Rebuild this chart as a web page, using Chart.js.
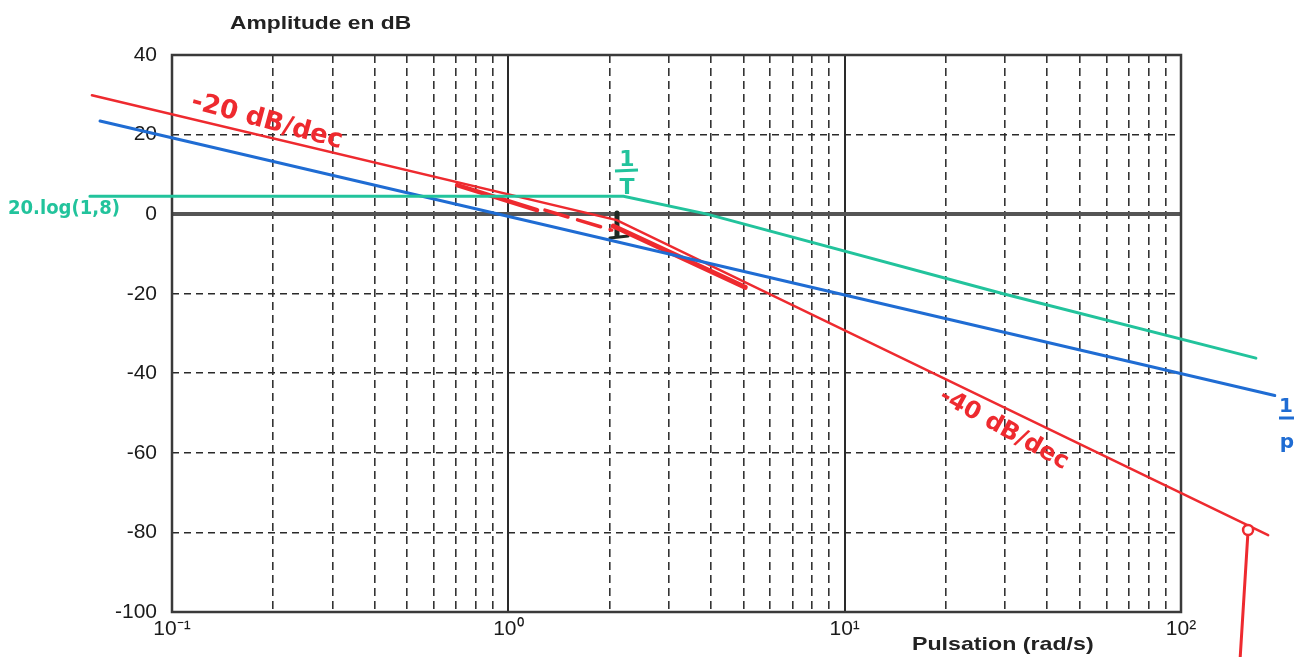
<!DOCTYPE html>
<html>
<head>
<meta charset="utf-8">
<script src="https://cdn.jsdelivr.net/npm/chart.js@4.4.1/dist/chart.umd.min.js"></script>
<style>
html,body{margin:0;padding:0;background:#fff;}
canvas{display:block;}
</style>
</head>
<body>
<canvas id="c" width="1308" height="657"></canvas>
<script>
// ---- data (omega in rad/s, amplitude in dB) ----
const xTicks = [0.1,0.2,0.3,0.4,0.5,0.6,0.7,0.8,0.9,1,2,3,4,5,6,7,8,9,10,20,30,40,50,60,70,80,90,100];
const xTickLabels = {0.1:'10\u207B\u00B9', 1:'10\u2070', 10:'10\u00B9', 100:'10\u00B2'};
const yTicks = [40,20,0,-20,-40,-60,-80,-100];

// blue : 1/p
const blueOmega = [0.0611, 190];
const blueDb    = [23.4, -45.6];
// green : 1.8/(1+Tp)
const greenOmega = [0.057, 2.2, 3.9, 29.6, 167];
const greenDb    = [4.5, 4.5, 0, -20, -36.2];
// red : product
const redOmega = [0.0578, 2.1, 181.6];
const redDb    = [29.9, -1.5, -80.7];
// hand-drawn red strokes
const redHandAOmega = [0.704, 1.217];
const redHandADb    = [7.3, 1.0];
const redDashOmega  = [1.285, 2.03];
const redDashDb     = [1.0, -4.0];
const redHandBOmega = [2.05, 5.06];
const redHandBDb    = [-3.0, -18.4];
const redDropOmega  = [158.3, 150];
const redDropDb     = [-79.4, -111.3];
// black mark at 1/T
const markVOmega = [2.104, 2.104];
const markVDb    = [0.3, -5.3];
const markHOmega = [2.005, 2.27];
const markHDb    = [-6.0, -5.5];

const RED = '#ee2a2f', BLUE = '#1f6cd3', GREEN = '#22c39c';
const pts = (xs, ys) => xs.map((x, i) => ({x, y: ys[i]}));

function ds(xs, ys, color, width, extra) {
  return Object.assign({
    type: 'line', data: pts(xs, ys), borderColor: color, backgroundColor: color,
    borderWidth: width, pointRadius: 0, clip: false, tension: 0, fill: false,
    borderCapStyle: 'round'
  }, extra || {});
}

function stretchedText(c, txt, x, y, sx) {
  c.save(); c.translate(x, y); c.scale(sx, 1); c.fillText(txt, 0, 0); c.restore();
}

const frameAndText = {
  id: 'frameAndText',
  beforeDraw(chart) {
    const c = chart.ctx;
    c.save(); c.fillStyle = '#fff'; c.fillRect(0, 0, chart.width, chart.height); c.restore();
  },
  beforeDatasetsDraw(chart) {
    const c = chart.ctx, a = chart.chartArea;
    c.save();
    c.strokeStyle = '#3a3a3a'; c.lineWidth = 2.5; c.setLineDash([]);
    c.strokeRect(a.left, a.top, a.right - a.left, a.bottom - a.top);
    c.restore();
  },
  afterDatasetsDraw(chart) {
    // small circle marking the start of the red drop line
    const c = chart.ctx;
    const px = chart.scales.x.getPixelForValue(redDropOmega[0]);
    const py = chart.scales.y.getPixelForValue(redDropDb[0]);
    c.save();
    c.beginPath(); c.arc(px, py, 5, 0, Math.PI * 2);
    c.fillStyle = '#fff'; c.fill();
    c.strokeStyle = RED; c.lineWidth = 2.5; c.stroke();
    c.restore();
  },
  afterDraw(chart) {
    const c = chart.ctx;
    c.save();
    c.fillStyle = '#222';
    c.font = 'bold 19px "Liberation Sans", Arial, sans-serif';
    c.textBaseline = 'alphabetic';
    c.textAlign = 'left';
    stretchedText(c, 'Amplitude en dB', 230, 29, 1.2);
    stretchedText(c, 'Pulsation (rad/s)', 912, 650, 1.22);

    // handwritten annotations
    c.font = 'bold 26px "DejaVu Sans", sans-serif';
    c.fillStyle = RED;
    c.save(); c.translate(190, 108); c.rotate(15 * Math.PI / 180);
    c.fillText('-20 dB/dec', 0, 0); c.restore();
    c.save(); c.translate(938, 400); c.rotate(29 * Math.PI / 180);
    c.font = 'bold 24px "DejaVu Sans", sans-serif';
    c.fillText('-40 dB/dec', 0, 0); c.restore();

    c.fillStyle = GREEN;
    c.font = 'bold 19px "DejaVu Sans", sans-serif';
    stretchedText(c, '20.log(1,8)', 8, 214, 0.95);
    c.textAlign = 'center';
    c.font = 'bold 22px "DejaVu Sans", sans-serif';
    c.fillText('1', 627, 166);
    c.fillText('T', 627, 194);
    c.strokeStyle = GREEN; c.lineWidth = 3;
    c.beginPath(); c.moveTo(615, 171); c.lineTo(638, 170); c.stroke();

    c.fillStyle = BLUE; c.strokeStyle = BLUE;
    c.font = 'bold 20px "DejaVu Sans", sans-serif';
    c.fillText('1', 1286, 412);
    c.beginPath(); c.moveTo(1279, 418); c.lineTo(1294, 418); c.stroke();
    c.fillText('p', 1287, 448);
    c.restore();
  }
};

new Chart(document.getElementById('c'), {
  type: 'line',
  data: {
    datasets: [
      ds(greenOmega, greenDb, GREEN, 3),
      ds(blueOmega, blueDb, BLUE, 3),
      ds(redOmega, redDb, RED, 2.5),
      ds(redHandAOmega, redHandADb, RED, 4.5),
      ds(redDashOmega, redDashDb, RED, 3.5, {borderDash: [24, 10]}),
      ds(redHandBOmega, redHandBDb, RED, 5),
      ds(redDropOmega, redDropDb, RED, 3),
      ds(markVOmega, markVDb, '#1e2a24', 5),
      ds(markHOmega, markHDb, '#1e2a24', 3)
    ]
  },
  options: {
    responsive: false,
    devicePixelRatio: 1,
    animation: false,
    layout: {padding: {left: 0, top: 55, right: 127, bottom: 0}},
    plugins: {legend: {display: false}, tooltip: {enabled: false}, title: {display: false}},
    scales: {
      x: {
        type: 'logarithmic', min: 0.1, max: 100,
        afterBuildTicks(s) { s.ticks = xTicks.map(v => ({value: v})); },
        afterFit(s) { s.height = 45; },
        border: {
          display: false,
          dash(ctx) {
            if (!ctx.tick) return [];
            return xTickLabels[ctx.tick.value] ? [] : [8, 5];
          }
        },
        grid: {
          drawTicks: false,
          color(ctx) { return ctx.tick && xTickLabels[ctx.tick.value] ? '#2a2a2a' : '#333'; },
          lineWidth(ctx) { return ctx.tick && xTickLabels[ctx.tick.value] ? 2 : 1.6; }
        },
        ticks: {
          autoSkip: false, maxRotation: 0, padding: 5,
          color: '#1a1a1a', font: {family: '"Liberation Sans", Arial, sans-serif', size: 21},
          callback(v) { return xTickLabels[v] || ''; }
        }
      },
      y: {
        type: 'linear', min: -100, max: 40,
        afterBuildTicks(s) { s.ticks = yTicks.map(v => ({value: v})); },
        afterFit(s) { s.width = 172; },
        border: {
          display: false,
          dash(ctx) { return ctx.tick && ctx.tick.value === 0 ? [] : [7, 5]; }
        },
        grid: {
          drawTicks: false,
          color(ctx) { return ctx.tick && ctx.tick.value === 0 ? '#555' : '#2a2a2a'; },
          lineWidth(ctx) { return ctx.tick && ctx.tick.value === 0 ? 4 : 1.6; }
        },
        ticks: {
          padding: 15, color: '#1a1a1a',
          font: {family: '"Liberation Sans", Arial, sans-serif', size: 21},
          callback(v) { return String(v); }
        }
      }
    }
  },
  plugins: [frameAndText]
});
</script>
</body>
</html>
